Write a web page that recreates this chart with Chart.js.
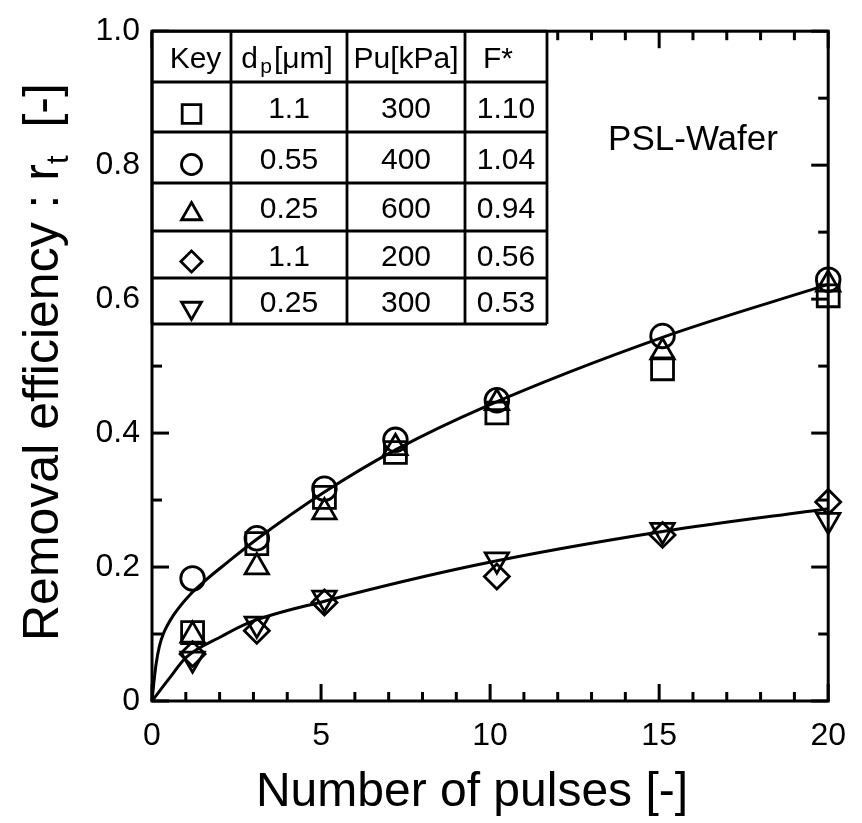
<!DOCTYPE html>
<html>
<head>
<meta charset="utf-8">
<title>Removal efficiency vs number of pulses</title>
<script src="https://cdn.jsdelivr.net/npm/chart.js@4.4.0/dist/chart.umd.min.js"></script>
<style>
  html, body { margin: 0; padding: 0; background: #fff; }
</style>
</head>
<body>
<canvas id="myChart" width="862" height="823"></canvas>
<script>
// pulse counts where removal was measured
const pulsesUpper = [1.2, 3.1, 5.1, 7.2, 10.2, 15.1, 20]
const pulsesLower = [1.2, 3.1, 5.1, 10.2, 15.1, 20]

// removal efficiency r_t for each run
const squareRun = [0.102, 0.235, 0.304, 0.371, 0.430, 0.496, 0.605]
const circleRun = [0.183, 0.243, 0.317, 0.390, 0.449, 0.545, 0.629]
const triangleRun = [0.098, 0.200, 0.282, 0.378, 0.445, 0.521, 0.622]
const diamondRun = [0.070, 0.105, 0.147, 0.186, 0.248, 0.297]
const downTriRun = [0.063, 0.115, 0.154, 0.211, 0.255, 0.270]

// fitted curves
const upperFitX = [0, 0.05, 0.12, 0.22, 0.35, 0.62, 1.11, 1.6, 2.23, 3.06, 5.1, 7.2, 9.88, 15.1, 20]
const upperFitY = [0, 0.025, 0.055, 0.082, 0.102, 0.127, 0.158, 0.181, 0.207, 0.240, 0.312, 0.375, 0.440, 0.543, 0.622]
const lowerFitX = [0, 0.5, 1.01, 2.08, 2.87, 5.1, 9.59, 15.1, 20]
const lowerFitY = [0, 0.033, 0.065, 0.097, 0.117, 0.149, 0.203, 0.253, 0.287]

// key table
const keyStyles = ['rect', 'circle', 'triangle', 'rectRot', 'triangleDown']
const particleSize = ['1.1', '0.55', '0.25', '1.1', '0.25']
const pressure = ['300', '400', '600', '200', '300']
const forceRatio = ['1.10', '1.04', '0.94', '0.56', '0.53']

const xTicks = [0, 5, 10, 15, 20]
const yTicks = [0, 0.2, 0.4, 0.6, 0.8, 1.0]

const FONT = '"Liberation Sans", Arial, Helvetica, sans-serif'
Chart.defaults.font.family = FONT
Chart.defaults.color = '#000'

// marker look per style
const markerSize = {rect: 15.5, circle: 11.8, triangle: 13.5, rectRot: 12.5, triangleDown: 13.5}

function toPoints(xs, ys) {
  return ys.map((v, i) => ({x: xs[i], y: v}))
}

function markerSet(label, xs, ys, style) {
  const down = style === 'triangleDown'
  return {
    label: label,
    data: toPoints(xs, ys),
    showLine: false,
    pointStyle: down ? 'triangle' : style,
    rotation: down ? 180 : 0,
    pointRadius: markerSize[style],
    pointBorderWidth: 2.8,
    pointBorderColor: '#000',
    pointBackgroundColor: 'rgba(0,0,0,0)',
    clip: false
  }
}

function curveSet(label, xs, ys) {
  return {
    label: label,
    data: toPoints(xs, ys),
    showLine: true,
    borderColor: '#000',
    borderWidth: 3,
    pointRadius: 0,
    cubicInterpolationMode: 'monotone',
    clip: false
  }
}

function stroke(ctx, x1, y1, x2, y2) {
  ctx.beginPath()
  ctx.moveTo(x1, y1)
  ctx.lineTo(x2, y2)
  ctx.stroke()
}

// frame, inward ticks, axis titles, annotation and key table
const decorations = {
  id: 'decorations',
  afterDraw(chart) {
    const ctx = chart.ctx
    const a = chart.chartArea
    const xs = chart.scales.x
    const ys = chart.scales.y
    ctx.save()
    ctx.strokeStyle = '#000'
    ctx.fillStyle = '#000'
    ctx.lineWidth = 3
    ctx.lineCap = 'butt'

    // ticks on all four sides, pointing in
    for (let v = 0; v <= 20; v++) {
      const px = xs.getPixelForValue(v)
      const len = v % 5 === 0 ? 17 : 9
      stroke(ctx, px, a.bottom, px, a.bottom - len)
      stroke(ctx, px, a.top, px, a.top + len)
    }
    for (let i = 0; i <= 10; i++) {
      const py = ys.getPixelForValue(i / 10)
      const len = i % 2 === 0 ? 17 : 10
      stroke(ctx, a.left, py, a.left + len, py)
      stroke(ctx, a.right, py, a.right - len, py)
    }

    // key table
    const cols = [a.left, 231, 347, 465, 547]
    const rows = [a.top, 82, 132, 183, 231, 278, 324]
    ctx.fillStyle = '#fff'
    ctx.fillRect(cols[0], rows[0], cols[4] - cols[0], rows[6] - rows[0])
    ctx.lineWidth = 2.8
    rows.forEach(r => stroke(ctx, cols[0], r, cols[4], r))
    cols.forEach(c => stroke(ctx, c, rows[0], c, rows[6]))

    ctx.fillStyle = '#000'
    ctx.textAlign = 'center'
    ctx.textBaseline = 'middle'
    const cx = i => (cols[i] + cols[i + 1]) / 2
    const cy = j => (rows[j] + rows[j + 1]) / 2 + 3
    ctx.font = '30px ' + FONT
    ctx.fillText('Key', cx(0) + 4, cy(0))
    ctx.fillText('Pu[kPa]', cx(2), cy(0))
    ctx.fillText('F*', cx(3) - 8, cy(0))
    // d_p[μm] with subscript p
    const d = 'd', sub = 'p', rest = '[μm]'
    ctx.font = '30px ' + FONT
    const wd = ctx.measureText(d + ' ').width
    const wr = ctx.measureText(rest).width
    ctx.font = '21px ' + FONT
    const ws = ctx.measureText(sub).width
    let sx = cx(1) - (wd + ws + wr) / 2
    ctx.textAlign = 'left'
    ctx.font = '30px ' + FONT
    ctx.fillText(d, sx, cy(0))
    ctx.font = '21px ' + FONT
    ctx.fillText(sub, sx + wd - 6, cy(0) + 8)
    ctx.font = '30px ' + FONT
    ctx.fillText(rest, sx + wd + ws - 4, cy(0))
    ctx.textAlign = 'center'

    for (let j = 0; j < 5; j++) {
      ctx.fillText(particleSize[j], cx(1), cy(j + 1))
      ctx.fillText(pressure[j], cx(2), cy(j + 1))
      ctx.fillText(forceRatio[j], cx(3), cy(j + 1))
      const style = keyStyles[j]
      const down = style === 'triangleDown'
      ctx.lineWidth = 2.8
      ctx.strokeStyle = '#000'
      ctx.fillStyle = 'rgba(0,0,0,0)'
      Chart.helpers.drawPoint(ctx, {
        pointStyle: down ? 'triangle' : style,
        rotation: down ? 180 : 0,
        radius: markerSize[style] * 0.85,
        borderWidth: 2.8
      }, cx(0), cy(j + 1) + 4)
      ctx.fillStyle = '#000'
    }

    // annotation
    ctx.font = '35px ' + FONT
    ctx.textAlign = 'center'
    ctx.fillText('PSL-Wafer', 693, 140)

    // axis titles
    ctx.font = '48px ' + FONT
    ctx.textBaseline = 'alphabetic'
    ctx.fillText('Number of pulses [-]', 472, 806)

    ctx.translate(58, (a.top + a.bottom) / 2 - 4)
    ctx.rotate(-Math.PI / 2)
    ctx.textAlign = 'left'
    const partA = 'Removal efficiency : r', partT = 't', partB = '  [-]'
    ctx.font = '50px ' + FONT
    const wa = ctx.measureText(partA).width
    const wb = ctx.measureText(partB).width
    ctx.font = '31px ' + FONT
    const wt = ctx.measureText(partT).width
    const start = -(wa + wt + wb) / 2
    ctx.font = '50px ' + FONT
    ctx.fillText(partA, start, 0)
    ctx.font = '31px ' + FONT
    ctx.fillText(partT, start + wa, 10)
    ctx.font = '50px ' + FONT
    ctx.fillText(partB, start + wa + wt, 0)
    ctx.restore()

    // plot frame on top
    ctx.save()
    ctx.strokeStyle = '#000'
    ctx.lineWidth = 3
    ctx.strokeRect(a.left, a.top, a.right - a.left, a.bottom - a.top)
    ctx.restore()
  }
}

const ctx = document.getElementById('myChart').getContext('2d')
const myChart = new Chart(ctx, {
  type: 'scatter',
  data: {
    datasets: [
      curveSet('upper fit', upperFitX, upperFitY),
      curveSet('lower fit', lowerFitX, lowerFitY),
      markerSet('1.1 um, 300 kPa', pulsesUpper, squareRun, 'rect'),
      markerSet('0.55 um, 400 kPa', pulsesUpper, circleRun, 'circle'),
      markerSet('0.25 um, 600 kPa', pulsesUpper, triangleRun, 'triangle'),
      markerSet('1.1 um, 200 kPa', pulsesLower, diamondRun, 'rectRot'),
      markerSet('0.25 um, 300 kPa', pulsesLower, downTriRun, 'triangleDown')
    ]
  },
  options: {
    responsive: false,
    animation: false,
    devicePixelRatio: 1,
    layout: {padding: {top: 24, right: 26, left: 0, bottom: 0}},
    plugins: {legend: {display: false}, tooltip: {enabled: false}},
    scales: {
      x: {
        type: 'linear',
        min: 0,
        max: 20,
        grid: {display: false, drawTicks: false},
        border: {display: false},
        afterFit: s => { s.height = 122 },
        afterBuildTicks: s => { s.ticks = xTicks.map(v => ({value: v})) },
        ticks: {font: {size: 32}, padding: 16, maxRotation: 0, autoSkip: false,
          callback: v => String(v)}
      },
      y: {
        type: 'linear',
        min: 0,
        max: 1,
        grid: {display: false, drawTicks: false},
        border: {display: false},
        afterFit: s => { s.width = 152 },
        afterBuildTicks: s => { s.ticks = yTicks.map(v => ({value: v})) },
        ticks: {font: {size: 32}, padding: 12,
          callback: v => v === 0 ? '0' : v.toFixed(1)}
      }
    }
  },
  plugins: [decorations]
})
</script>
</body>
</html>
